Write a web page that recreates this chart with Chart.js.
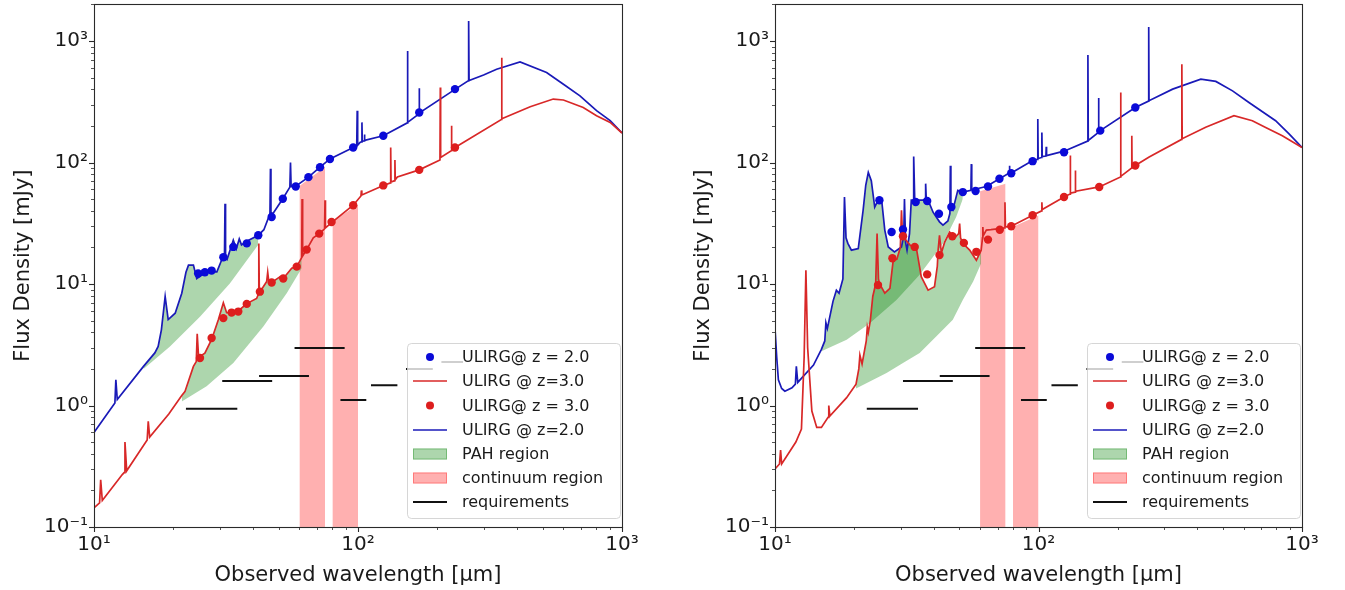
<!DOCTYPE html>
<html><head><meta charset="utf-8">
<script src="https://cdn.jsdelivr.net/npm/chart.js@4.4.0/dist/chart.umd.min.js"></script>
<style>
html,body{margin:0;padding:0;background:#fff;}
#wrap{position:relative;width:1345px;height:590px;overflow:hidden;background:#fff;}
#c1{position:absolute;left:0;top:0;}
#c2{position:absolute;left:680px;top:0;}
</style></head><body>
<div id="wrap"><canvas id="c1" width="672" height="590"></canvas><canvas id="c2" width="665" height="590"></canvas></div>
<script>
const FONT = "'DejaVu Sans', 'Liberation Sans', sans-serif";
const xMajor = [10, 100, 1000];
const xMajorLabels = ['10¹', '10²', '10³'];
const yMajor = [0.1, 1, 10, 100, 1000];
const yMajorLabels = ['10⁻¹', '10⁰', '10¹', '10²', '10³'];
const xTitle = 'Observed wavelength [μm]';
const yTitle = 'Flux Density [mJy]';
const legendLabels = ['ULIRG@ z = 2.0', 'ULIRG @ z=3.0', 'ULIRG@ z = 3.0', 'ULIRG @ z=2.0', 'PAH region', 'continuum region', 'requirements'];

// ---------- LEFT PANEL ----------
const leftBlueSED = [[10,0.60],[12.0,1.05],[12.1,1.63],[12.25,1.12],[15.4,2.10],[17.0,2.71],[17.5,3.06],[18.0,4.2],[18.6,7.9],[19.1,5.1],[20.3,5.75],[21.5,8.4],[22.3,12.5],[22.8,14.3],[23.8,14.3],[24.5,11.1],[25.2,11.6],[26.7,12.6],[29.2,12.6],[30.5,15.9],[31.2,15.9],[31.35,45.8],[31.5,16.2],[31.9,15.9],[33.7,23],[34.6,19.5],[35.5,23.5],[36.2,21],[37.9,22.5],[41.9,25.2],[44.0,28],[46.4,37.9],[46.6,88.7],[46.8,38.2],[47.8,38.5],[51.9,50.4],[55.2,62.8],[55.5,100],[55.8,63.5],[58.1,64],[64.9,75.8],[71.8,91.5],[78.3,107],[95.9,133],[98.9,137],[99.3,267],[99.7,139],[102,147],[103.2,148],[103.5,214],[103.8,149],[105.5,151],[105.8,170],[106.1,152],[124.7,166],[153.6,212],[154,828],[154.4,214],[170.3,252],[170.6,409],[170.9,256],[233,400],[261.5,470],[262.5,1459],[263.5,474],[299,526],[335,586],[411,673],[518,550],[600,441],[693,354],[801,267],[902,221],[1000,175]];
const leftRedSED = [[10,0.144],[10.5,0.158],[10.6,0.245],[10.75,0.165],[12.8,0.27],[13.0,0.28],[13.1,0.50],[13.3,0.29],[15.9,0.52],[16.05,0.74],[16.25,0.55],[19.2,0.85],[21.5,1.21],[22.1,1.3],[23.8,2.1],[24.4,2.3],[24.6,3.9],[24.9,2.5],[26.3,2.7],[27.9,3.5],[29.6,5.1],[30.9,7.0],[31.8,5.8],[33.2,5.8],[35.2,6.0],[37.9,6.9],[41.3,7.6],[41.9,8.2],[42.1,21.6],[42.3,8.4],[42.5,8.6],[45.1,10.5],[45.5,12.5],[46.0,10.2],[47.1,10.3],[50.7,11.5],[52.1,11.1],[56.1,13.5],[58.6,13.9],[61.2,16.5],[61.4,50],[61.7,17],[63.9,19.2],[67.7,24],[71.3,26],[74.7,28.5],[75.0,49],[75.3,29],[79.4,32],[95.9,44.5],[102.6,53],[103,58.9],[103.4,54],[124.7,64.8],[132.7,68],[133,133],[133.4,69],[137.7,71],[138,105],[138.4,72],[141,76],[170.6,87],[204.4,105],[205,414],[205.6,110],[225.4,125],[226,201],[226.6,128],[233,133],[349,226],[350,730],[351,229],[449,288],[549,333],[600,327],[713,284],[801,243],[902,214],[1000,175]];
const leftBlueDots = [[24.8,12.2],[26.3,12.5],[27.9,12.9],[30.9,16.6],[33.7,20.2],[37.9,21.6],[41.9,25.2],[47.1,35.6],[51.9,50.4],[58.1,63.5],[64.9,75.8],[71.8,91.5],[78.3,107],[95.9,133],[124.7,166],[170.6,258],[233,402]];
const leftRedDots = [[25.2,2.46],[27.9,3.59],[30.9,5.24],[33.2,5.82],[35.2,5.93],[37.9,6.86],[42.5,8.65],[47.1,10.3],[52.1,11.1],[58.6,13.9],[63.9,19.2],[71.3,26.0],[79.4,32.4],[95.9,44.5],[124.7,64.8],[170.6,87],[233,133]];
const leftPahBlueRange = [15.4, 41.9];
const leftPahBlueLow = [[15.4,2.0],[19.4,3.06],[25.2,5.39],[32.7,10.1],[41.9,21]];
const leftPahRedRange = [21.5, 61.2];
const leftPahRedLow = [[21.5,1.08],[26.7,1.44],[33.7,2.24],[43.8,4.47],[53.7,8.4],[61.2,13.5]];
const leftCont1 = [[60,64],[75,92]];
const leftCont2 = [[80,33],[100,45]];

// ---------- RIGHT PANEL ----------
const rightBlueSED = [[10,4.3],[10.15,2.5],[10.3,1.63],[10.6,1.38],[10.9,1.31],[11.6,1.40],[11.95,1.5],[12.05,2.1],[12.2,1.55],[14.0,2.15],[15.0,2.9],[15.45,3.4],[15.6,4.8],[15.8,4.3],[16.6,7.2],[17.1,8.9],[17.5,8.4],[18.1,11],[18.35,52],[18.6,24],[18.9,21.6],[19.5,19],[20.7,19.6],[21.6,40.5],[22.1,65],[22.6,83],[23.2,71],[23.9,43],[24.6,48.9],[25.4,48.9],[26.1,27.8],[26.9,20.2],[28.4,18.4],[30.2,20.2],[30.8,25],[31.0,50],[31.3,22],[31.7,19],[32.4,26],[32.9,49],[33.4,49],[33.6,112],[33.9,50],[34.4,49],[36.4,49],[37.1,50],[37.3,67],[37.5,50],[38.1,49],[39.8,39],[42.1,32.5],[43.4,30.5],[45.3,33],[46.1,38],[46.3,94],[46.5,42],[47.3,40.5],[49.4,59],[51.6,57],[55.4,59],[55.6,97],[55.8,60],[56.7,60],[63.4,63.5],[71.1,73.5],[77.4,82],[77.6,94],[77.8,83],[78.8,82],[95,104],[99.1,106],[99.4,228],[99.7,108],[102.7,110],[103,177],[103.3,112],[106.7,113],[107,135],[107.3,114],[125,124],[153.5,150],[154,768],[154.5,152],[168.5,176],[169,339],[169.5,178],[171.5,183],[233,284],[261.3,320],[262,1303],[262.7,323],[323,402],[413,485],[471,465],[545,389],[629,312],[794,221],[893,172],[1000,133]];
const rightRedSED = [[10,0.30],[10.4,0.33],[10.5,0.43],[10.6,0.33],[12.0,0.5],[12.6,0.64],[12.9,2.5],[13.1,13.0],[13.3,3.0],[13.8,0.9],[14.4,0.66],[15.0,0.66],[15.9,0.80],[16.0,1.0],[16.15,0.82],[18.7,1.16],[20.3,1.5],[20.8,2.0],[21.0,2.6],[21.4,2.2],[22.2,3.4],[22.4,4.4],[22.6,4.0],[23.0,5.0],[23.5,7.9],[24.1,10],[24.4,26],[24.7,11],[24.9,10.1],[26.1,8.4],[27.3,9.2],[28.1,15.7],[29.0,16],[29.9,20],[30.2,40.5],[30.5,24],[31.0,23.7],[32.5,21],[34.5,19],[35.9,11.5],[38.1,8.9],[40.3,9.5],[41.3,14],[41.6,19],[42.1,25.2],[42.8,18],[44,22],[46.0,26.8],[48,24],[49.8,26],[50.2,31.4],[50.6,24],[51.6,21.6],[54.8,19],[58.1,15.7],[60.6,19],[61.3,24],[61.5,29.5],[61.7,25],[63.4,27.8],[66,28],[71.1,28.6],[74.3,29],[74.6,47],[74.9,29.5],[78.8,29.9],[95,36.8],[102.7,40],[103,47],[103.3,41],[125,52],[131.7,55],[132,114],[132.3,56],[137.7,57],[138,86],[138.3,58],[170,63],[204.5,76],[205,377],[205.5,77],[225.5,90],[226,166],[226.5,91],[233,94.5],[263,111],[349,155],[350,644],[351,157],[431,195],[552,243],[648,221],[728,194],[842,166],[1000,133]];
const rightBlueDots = [[24.9,48.9],[27.7,26.8],[30.6,28.1],[34.2,47.3],[37.8,48.2],[41.9,37.9],[46.7,43],[51.6,57.1],[57.7,58.3],[64.3,63.5],[71.1,73.5],[78.8,81.7],[95,102.6],[125,121.6],[171.5,183],[233,284]];
const rightRedDots = [[24.6,9.8],[27.9,16.3],[30.6,24.7],[33.9,20.2],[37.8,12.0],[42.1,17.3],[47.1,24.7],[52.1,21.8],[58.1,18.4],[64.3,23.2],[71.3,28],[78.8,29.9],[95,36.8],[125,52],[170,62.8],[233,94.5]];
const rightPahBlueRange = [15.0, 51.6];
const rightPahBlueLow = [[15.0,2.79],[18.7,3.48],[22.9,4.76],[28.9,7.39],[35.4,11.9],[43.4,21.6],[48.7,35.6],[51.6,50]];
const rightPahRedRange = [20.3, 60.6];
const rightPahRedLow = [[20.3,1.38],[26.5,1.85],[30.6,2.24],[35.4,2.7],[40.9,3.7],[47.3,5.07],[51.6,7.4],[56.5,10.5],[60.6,14.8]];
const rightCont1 = [[60,58],[75,67]];
const rightCont2 = [[80,29.6],[100,36.7]];

// requirements: [lambda start, lambda end, flux]
const requirements = [[22.3,34.9,0.94],[30.6,47.3,1.59],[42.2,65.2,1.75],[57.5,89,2.97],[85.8,107.5,1.11],[112,141,1.47],[152,192,2.0],[207,250,2.28]];

const BLUE_LINE = '#1a1ab8', RED_LINE = '#d82828', BLUE_DOT = '#0a0ad8', RED_DOT = '#dd1e1e';
const GREEN = 'rgba(0,128,0,0.32)', PINK = 'rgba(255,0,0,0.31)';

const xy = a => a.map(p => ({x: p[0], y: p[1]}));
const within = (a, r) => a.filter(p => p[0] >= r[0] && p[0] <= r[1]);
function minorsOf(majors, maxV) {
  const out = [];
  majors.forEach(m => { for (let k = 1; k <= 9; k++) { const v = m * k; if (v <= maxV * 1.0001) out.push(v); } });
  return out;
}
const Y_MIN = 0.1, Y_MAX = 2010, X_MIN = 10, X_MAX = 1000;
const xTicks = minorsOf(xMajor, X_MAX);
const yTicks = minorsOf(yMajor, Y_MAX);
const isMajor = (v, majors) => majors.some(m => Math.abs(v - m) / m < 1e-6);
const labelFor = (v, majors, labels) => { const i = majors.findIndex(m => Math.abs(v - m) / m < 1e-6); return i >= 0 ? labels[i] : ''; };

function rr(ctx, x, y, w, h, r) {
  ctx.moveTo(x + r, y); ctx.lineTo(x + w - r, y); ctx.quadraticCurveTo(x + w, y, x + w, y + r);
  ctx.lineTo(x + w, y + h - r); ctx.quadraticCurveTo(x + w, y + h, x + w - r, y + h);
  ctx.lineTo(x + r, y + h); ctx.quadraticCurveTo(x, y + h, x, y + h - r);
  ctx.lineTo(x, y + r); ctx.quadraticCurveTo(x, y, x + r, y); ctx.closePath();
}

const framePlugin = {
  id: 'mplFrame',
  afterDraw(chart) {
    const {ctx, chartArea: a, scales: {x, y}} = chart;
    ctx.save();
    ctx.strokeStyle = '#2a2a2a';
    yTicks.forEach(v => {
      const maj = isMajor(v, yMajor); const p = Math.round(y.getPixelForValue(v)) + 0.5;
      ctx.lineWidth = maj ? 1.1 : 0.8; ctx.beginPath(); ctx.moveTo(a.left - (maj ? 5 : 3), p); ctx.lineTo(a.left, p); ctx.stroke();
    });
    xTicks.forEach(v => {
      const maj = isMajor(v, xMajor); const p = Math.round(x.getPixelForValue(v)) + 0.5;
      ctx.lineWidth = maj ? 1.1 : 0.8; ctx.beginPath(); ctx.moveTo(p, a.bottom); ctx.lineTo(p, a.bottom + (maj ? 5 : 3)); ctx.stroke();
    });
    ctx.lineWidth = 1.1;
    ctx.strokeRect(Math.round(a.left) + 0.5, Math.round(a.top) + 0.5, Math.round(a.right - a.left), Math.round(a.bottom - a.top));
    ctx.restore();
  }
};

const legendPlugin = {
  id: 'mplLegend',
  afterDraw(chart) {
    const ctx = chart.ctx;
    const L = {x: 407.5, y: 343.5, w: 213, h: 175};
    ctx.save();
    ctx.beginPath(); rr(ctx, L.x, L.y, L.w, L.h, 4);
    ctx.fillStyle = 'rgba(255,255,255,0.8)'; ctx.fill();
    ctx.strokeStyle = 'rgba(204,204,204,0.8)'; ctx.lineWidth = 1; ctx.stroke();
    const rows = [357, 381, 405.5, 430, 454, 478, 502];
    const hx0 = 413, hx1 = 447, hc = 430, tx = 462;
    const kinds = [['dot', BLUE_DOT], ['line', RED_LINE], ['dot', RED_DOT], ['line', BLUE_LINE], ['patch', GREEN], ['patch', PINK], ['line', '#111']];
    kinds.forEach((k, i) => {
      const yy = rows[i];
      if (k[0] === 'dot') { ctx.fillStyle = k[1]; ctx.beginPath(); ctx.arc(hc, yy, 4, 0, Math.PI * 2); ctx.fill(); }
      else if (k[0] === 'line') { ctx.strokeStyle = k[1]; ctx.lineWidth = (i === 6 ? 2 : 1.7); ctx.beginPath(); ctx.moveTo(hx0, yy); ctx.lineTo(hx1, yy); ctx.stroke(); }
      else { ctx.fillStyle = k[1]; ctx.fillRect(hx0, yy - 5.5, hx1 - hx0, 11); ctx.strokeStyle = k[1]; ctx.lineWidth = 1; ctx.strokeRect(hx0 + 0.5, yy - 5, hx1 - hx0 - 1, 10); }
      ctx.fillStyle = '#1a1a1a'; ctx.font = '16px ' + FONT; ctx.textBaseline = 'middle'; ctx.textAlign = 'left';
      ctx.fillText(legendLabels[i], tx, yy + 1);
    });
    ctx.restore();
  }
};

function makePanel(id, yw, rp, P) {
  const ds = [];
  [P.cont1, P.cont2].forEach(c => ds.push({data: xy(c), borderWidth: 0, pointRadius: 0, backgroundColor: PINK, fill: 'start', order: 6}));
  const iB = ds.length;
  ds.push({data: xy(within(P.blue, P.pahBRange)), borderWidth: 0, pointRadius: 0, backgroundColor: GREEN, fill: {target: iB + 1}, order: 5});
  ds.push({data: xy(P.pahBLow), borderWidth: 0, pointRadius: 0, fill: false, order: 5});
  const iR = ds.length;
  ds.push({data: xy(within(P.red, P.pahRRange)), borderWidth: 0, pointRadius: 0, backgroundColor: GREEN, fill: {target: iR + 1}, order: 4});
  ds.push({data: xy(P.pahRLow), borderWidth: 0, pointRadius: 0, fill: false, order: 4});
  requirements.forEach(r => ds.push({data: [{x: r[0], y: r[2]}, {x: r[1], y: r[2]}], borderColor: '#111', borderWidth: 2, pointRadius: 0, fill: false, order: 2}));
  ds.push({data: xy(P.red), borderColor: RED_LINE, borderWidth: 1.7, pointRadius: 0, fill: false, tension: 0, order: 1});
  ds.push({data: xy(P.blue), borderColor: BLUE_LINE, borderWidth: 1.7, pointRadius: 0, fill: false, tension: 0, order: 1});
  ds.push({data: xy(P.rdots), showLine: false, pointRadius: 4.2, pointBackgroundColor: RED_DOT, pointBorderWidth: 0, order: 0});
  ds.push({data: xy(P.bdots), showLine: false, pointRadius: 4.2, pointBackgroundColor: BLUE_DOT, pointBorderWidth: 0, order: 0});

  return new Chart(document.getElementById(id), {
    type: 'line',
    data: {datasets: ds},
    plugins: [framePlugin, legendPlugin],
    options: {
      responsive: false, animation: false, devicePixelRatio: 1,
      layout: {padding: {top: 3, right: rp, left: 0, bottom: 0}},
      plugins: {legend: {display: false}, tooltip: {enabled: false}},
      elements: {line: {tension: 0}},
      scales: {
        x: {
          type: 'logarithmic', min: X_MIN, max: X_MAX,
          afterBuildTicks: s => { s.ticks = xTicks.map(v => ({value: v})); },
          afterFit: s => { s.height = 63; s.paddingLeft = 0; s.paddingRight = 0; },
          grid: {display: false, drawTicks: true, tickLength: 4},
          border: {display: false},
          ticks: {autoSkip: false, maxRotation: 0, minRotation: 0, padding: 2, color: '#1a1a1a', font: {family: FONT, size: 20},
                  callback: v => labelFor(v, xMajor, xMajorLabels)},
          title: {display: true, text: xTitle, color: '#1a1a1a', font: {family: FONT, size: 21}, padding: {top: 0, bottom: 2}}
        },
        y: {
          type: 'logarithmic', min: Y_MIN, max: Y_MAX,
          afterBuildTicks: s => { s.ticks = yTicks.map(v => ({value: v})); },
          afterFit: s => { s.width = yw; s.paddingTop = 0; s.paddingBottom = 0; },
          grid: {display: false, drawTicks: true, tickLength: 4},
          border: {display: false},
          ticks: {autoSkip: false, padding: 2, color: '#1a1a1a', font: {family: FONT, size: 20},
                  callback: v => labelFor(v, yMajor, yMajorLabels)},
          title: {display: true, text: yTitle, color: '#1a1a1a', font: {family: FONT, size: 21}, padding: {top: 11, bottom: 0}}
        }
      }
    }
  });
}

makePanel('c1', 94, 50, {blue: leftBlueSED, red: leftRedSED, bdots: leftBlueDots, rdots: leftRedDots,
  pahBRange: leftPahBlueRange, pahBLow: leftPahBlueLow, pahRRange: leftPahRedRange, pahRLow: leftPahRedLow, cont1: leftCont1, cont2: leftCont2});
makePanel('c2', 95, 43, {blue: rightBlueSED, red: rightRedSED, bdots: rightBlueDots, rdots: rightRedDots,
  pahBRange: rightPahBlueRange, pahBLow: rightPahBlueLow, pahRRange: rightPahRedRange, pahRLow: rightPahRedLow, cont1: rightCont1, cont2: rightCont2});
</script>
</body></html>
